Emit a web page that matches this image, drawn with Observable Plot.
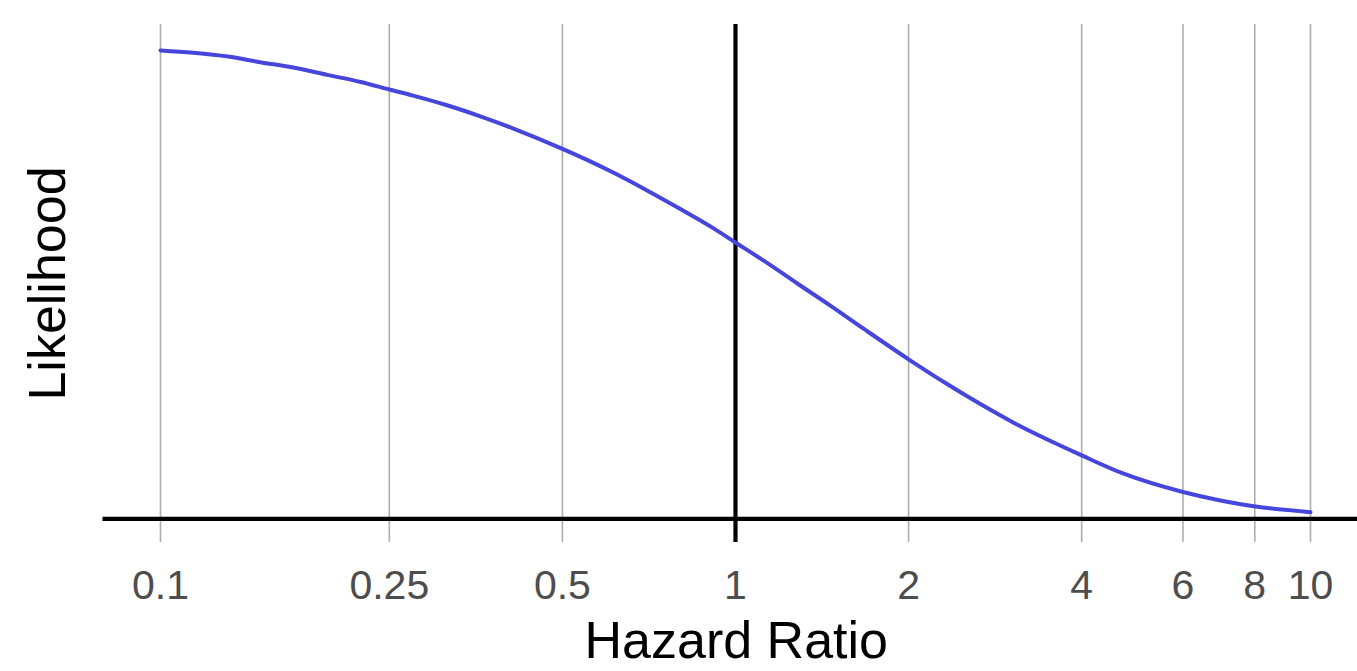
<!DOCTYPE html>
<html><head><meta charset="utf-8">
<script src="https://cdn.jsdelivr.net/npm/d3@7"></script>
<script src="https://cdn.jsdelivr.net/npm/@observablehq/plot@0.6"></script>
<style>body{margin:0;background:#fff}</style>
</head><body><div id="chart"></div>
<script>
const hazardRatio = [0.1, 0.114, 0.131, 0.149, 0.171, 0.195, 0.223, 0.25, 0.275, 0.316, 0.36, 0.411, 0.5, 0.553, 0.614, 0.703, 0.802, 0.916, 1, 1.118, 1.281, 1.462, 1.67, 2.0, 2.337, 2.666, 3.04, 3.67, 4.0, 4.72, 6.0, 6.97, 8.02, 10];
const likelihood = [0.995, 0.990, 0.982, 0.970, 0.958, 0.943, 0.928, 0.912, 0.899, 0.878, 0.855, 0.829, 0.786, 0.762, 0.735, 0.697, 0.658, 0.617, 0.587, 0.549, 0.500, 0.453, 0.404, 0.339, 0.286, 0.244, 0.205, 0.156, 0.135, 0.0966, 0.0573, 0.0393, 0.0265, 0.0144];
const tickValues = [0.1, 0.25, 0.5, 1, 2, 4, 6, 8, 10];
const tickLabels = ["0.1", "0.25", "0.5", "1", "2", "4", "6", "8", "10"];
const xTitle = "Hazard Ratio";
const yTitle = "Likelihood";

const data = hazardRatio.map((hr, i) => ({hr, l: likelihood[i]}));
const ticks = tickValues.map((v, i) => ({v, label: tickLabels[i]}));

const plot = Plot.plot({
  width: 1357, height: 671,
  marginTop: 24, marginBottom: 129, marginLeft: 102.5, marginRight: 0,
  style: {fontFamily: "'Liberation Sans', Arial, sans-serif", background: "#fff"},
  x: {type: "log", domain: [Math.pow(10, -1.1), Math.pow(10, 1.1)], range: [102.5, 1367.5], axis: null},
  y: {domain: [-0.05, 1.05], axis: null},
  marks: [
    Plot.gridX(tickValues, {stroke: "#adadad", strokeOpacity: 1, strokeWidth: 1.6}),
    Plot.ruleY([0], {stroke: "#000", strokeWidth: 4.2}),
    Plot.ruleX([1], {stroke: "#000", strokeWidth: 4.2}),
    Plot.line(data, {x: "hr", y: "l", stroke: "#4646DC", strokeWidth: 4, curve: "monotone-x"}),
    Plot.text(ticks, {x: "v", text: "label", frameAnchor: "bottom", dy: 27, lineAnchor: "top", fontSize: 41, fill: "#4d4d4d"}),
    Plot.text([xTitle], {text: d => d, frameAnchor: "bottom", dx: 6, dy: 99, fontSize: 52, fill: "#000", lineAnchor: "middle", textAnchor: "middle"}),
    Plot.text([yTitle], {text: d => d, frameAnchor: "left", dx: -54.5, rotate: -90, fontSize: 52, fill: "#000", lineAnchor: "middle", textAnchor: "middle"})
  ]
});
document.getElementById("chart").appendChild(plot);
</script>
</body></html>
